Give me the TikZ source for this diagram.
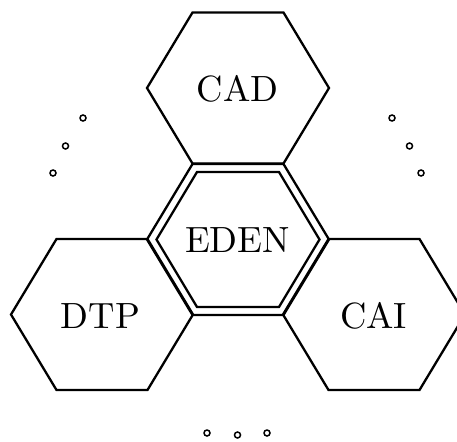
\documentclass[tikz,border=0pt]{standalone}
\usepackage{fontspec}
\newfontfamily\cellfont{lmroman10-regular.otf}
\begin{document}
\begin{tikzpicture}[x=1pt,y=-1pt,
  hexline/.style={line width=2.3pt,line join=miter},
  label/.style={inner sep=0pt,font=\cellfont\fontsize{36.5}{40}\selectfont},
  dot/.style={circle,draw,line width=1.5pt,inner sep=0pt,minimum size=6pt},
  hexa/.pic={\draw[hexline] (-91,0) -- (-45.5,-75.5) -- (45.5,-75.5) -- (91,0)
      -- (45.5,75.5) -- (-45.5,75.5) -- cycle;},
  innerhexa/.pic={\draw[hexline] (-81.5,0) -- (-41,-67.5) -- (41,-67.5) -- (81.5,0)
      -- (41,67.5) -- (-41,67.5) -- cycle;}]
\useasboundingbox (0,0) rectangle (457,441);
% the four cells
\pic at (238,88) {hexa};
\pic at (238,239.5) {hexa};
\pic at (238,239.5) {innerhexa};
\pic at (102,314.5) {hexa};
\pic at (374,314.5) {hexa};
% labels
\node[label] (cad)  at (237.5,89)  {CAD};
\node[label] (eden) at (237.5,240.5) {EDEN};
\node[label] (dtp)  at (100.5,316) {DTP};
\node[label] (cai)  at (373.5,316) {CAI};
% ellipsis dots between the cells
\node[dot] (l1) at (83,118) {};
\node[dot] (l2) at (65.5,146) {};
\node[dot] (l3) at (53,173) {};
\node[dot] (r1) at (392,118) {};
\node[dot] (r2) at (409.5,146) {};
\node[dot] (r3) at (421,173) {};
\node[dot] (b1) at (207,433) {};
\node[dot] (b2) at (237.5,435) {};
\node[dot] (b3) at (267,433) {};
\end{tikzpicture}
\end{document}
